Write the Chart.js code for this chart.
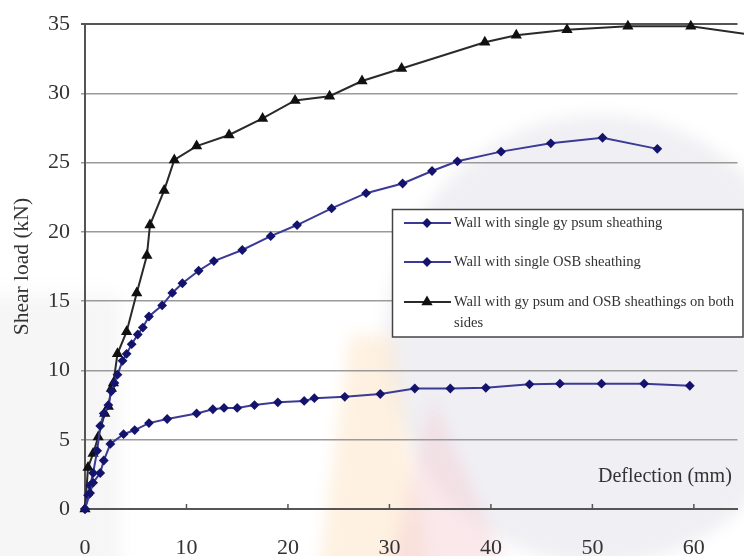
<!DOCTYPE html>
<html>
<head>
<meta charset="utf-8">
<script src="https://cdn.jsdelivr.net/npm/chart.js@4.4.1/dist/chart.umd.min.js"></script>
<style>
  html, body { margin: 0; padding: 0; background: #fff; }
  #wrap { width: 744px; height: 556px; }
</style>
</head>
<body>
<div id="wrap"><canvas id="chart" width="744" height="556"></canvas></div>
<script>
// deflection (mm) / shear load (kN)
const gypsumX = [0, 0.5, 0.8, 1.5, 1.85, 2.5, 3.8, 4.9, 6.3, 8.1, 11.0, 12.6, 13.7, 15.0, 16.7, 19.0, 21.6, 22.6, 25.6, 29.1, 32.5, 36.0, 39.5, 43.8, 46.8, 50.9, 55.1, 59.6];
const gypsumY = [0, 1.15, 1.9, 2.6, 3.5, 4.7, 5.4, 5.7, 6.2, 6.5, 6.9, 7.2, 7.3, 7.3, 7.5, 7.7, 7.8, 8.0, 8.1, 8.3, 8.7, 8.7, 8.75, 9.0, 9.05, 9.05, 9.05, 8.9];

const osbX = [0, 0.3, 0.5, 0.8, 1.2, 1.5, 1.85, 2.3, 2.6, 2.9, 3.2, 3.7, 4.1, 4.6, 5.2, 5.7, 6.3, 7.6, 8.6, 9.6, 11.2, 12.7, 15.5, 18.3, 20.9, 24.3, 27.7, 31.3, 34.2, 36.7, 41.0, 45.9, 51.0, 56.4];
const osbY = [0, 1.0, 1.7, 2.6, 4.2, 6.0, 6.9, 7.5, 8.5, 9.1, 9.7, 10.7, 11.2, 11.9, 12.6, 13.1, 13.9, 14.7, 15.6, 16.3, 17.2, 17.9, 18.7, 19.7, 20.5, 21.7, 22.8, 23.5, 24.4, 25.1, 25.8, 26.4, 26.8, 26.0];

const bothX = [0, 0.3, 0.8, 1.3, 1.95, 2.3, 2.6, 2.8, 3.2, 4.1, 5.1, 6.1, 6.4, 7.8, 8.8, 11.0, 14.2, 17.5, 20.7, 24.1, 27.3, 31.2, 39.4, 42.5, 47.5, 53.5, 59.7, 66.0];
const bothY = [0, 3.0, 4.0, 5.2, 6.9, 7.4, 8.7, 9.1, 11.2, 12.8, 15.6, 18.3, 20.5, 23.0, 25.2, 26.2, 27.0, 28.2, 29.5, 29.8, 30.9, 31.8, 33.7, 34.2, 34.6, 34.85, 34.85, 34.2];

const seriesLabels = [
  "Wall with single gy psum sheathing",
  "Wall with single OSB sheathing",
  "Wall with gy psum and OSB sheathings on both sides"
];
const xTickValues = [0, 10, 20, 30, 40, 50, 60];
const yTickValues = [0, 5, 10, 15, 20, 25, 30, 35];
const xTitle = "Deflection (mm)";
const yTitle = "Shear load (kN)";

const SERIF = "'Liberation Serif', 'DejaVu Serif', serif";

function toPoints(xs, ys) {
  return xs.map((x, i) => ({ x: x, y: ys[i] }));
}

// faint, blurred watermark shapes behind the plot
const backdrop = {
  id: "backdrop",
  beforeDraw(chart) {
    const ctx = chart.ctx;
    ctx.save();
    ctx.fillStyle = "#fff";
    ctx.fillRect(0, 0, chart.width, chart.height);
    ctx.filter = "blur(8px)";
    ctx.fillStyle = "rgba(230,230,237,0.6)";
    ctx.beginPath();
    ctx.ellipse(600, 340, 215, 225, 0, 0, Math.PI * 2);
    ctx.fill();
    ctx.fillStyle = "rgba(240,240,240,0.6)";
    ctx.fillRect(-20, 295, 140, 281);
    ctx.fillStyle = "rgba(253,228,195,0.5)";
    ctx.beginPath();
    ctx.moveTo(350, 335);
    ctx.lineTo(392, 335);
    ctx.lineTo(430, 576);
    ctx.lineTo(318, 576);
    ctx.closePath();
    ctx.fill();
    ctx.fillStyle = "rgba(245,205,210,0.45)";
    ctx.beginPath();
    ctx.moveTo(432, 395);
    ctx.lineTo(510, 576);
    ctx.lineTo(388, 576);
    ctx.closePath();
    ctx.fill();
    ctx.restore();
  }
};

// inner x ticks, the in-plot axis label and the boxed legend
const extras = {
  id: "extras",
  afterDraw(chart) {
    const ctx = chart.ctx;
    const xs = chart.scales.x;
    const area = chart.chartArea;
    ctx.save();

    ctx.strokeStyle = "#555";
    ctx.lineWidth = 1.5;
    xTickValues.forEach((v) => {
      if (v === 0) return;
      const px = xs.getPixelForValue(v);
      ctx.beginPath();
      ctx.moveTo(px, area.bottom);
      ctx.lineTo(px, area.bottom - 5);
      ctx.stroke();
    });

    ctx.fillStyle = "#333";
    ctx.font = "20px " + SERIF;
    ctx.textAlign = "left";
    ctx.textBaseline = "middle";
    ctx.fillText(xTitle, 598, 477);

    // legend
    const box = { left: 392.5, top: 209.5, right: 743, bottom: 337 };
    ctx.fillStyle = "#fff";
    ctx.fillRect(box.left, box.top, box.right - box.left, box.bottom - box.top);
    ctx.strokeStyle = "#444";
    ctx.lineWidth = 1.5;
    ctx.strokeRect(box.left, box.top, box.right - box.left, box.bottom - box.top);

    const rows = [223, 262, 302];
    ctx.font = "14.6px " + SERIF;
    const textLeft = 454;
    const maxW = box.right - textLeft - 1;
    chart.data.datasets.forEach((ds, i) => {
      const y = rows[i];
      ctx.strokeStyle = ds.borderColor;
      ctx.lineWidth = 2;
      ctx.beginPath();
      ctx.moveTo(404, y);
      ctx.lineTo(451, y);
      ctx.stroke();
      ctx.fillStyle = ds.pointBackgroundColor;
      ctx.strokeStyle = ds.pointBorderColor;
      Chart.helpers.drawPoint(ctx, { pointStyle: ds.pointStyle, radius: ds.pointRadius, rotation: 0, borderWidth: 1 }, 427, y);

      // simple word wrap
      const words = ds.label.split(" ");
      const lines = [];
      let cur = "";
      words.forEach((w) => {
        const t = cur ? cur + " " + w : w;
        if (ctx.measureText(t).width > maxW && cur) {
          lines.push(cur);
          cur = w;
        } else {
          cur = t;
        }
      });
      lines.push(cur);
      ctx.fillStyle = "#333";
      lines.forEach((ln, k) => ctx.fillText(ln, textLeft, y + k * 21));
    });

    ctx.restore();
  }
};

new Chart(document.getElementById("chart"), {
  type: "line",
  data: {
    datasets: [
      {
        label: seriesLabels[0],
        data: toPoints(gypsumX, gypsumY),
        borderColor: "#3b3b96",
        borderWidth: 2,
        pointStyle: "rectRot",
        pointRadius: 3.5,
        pointBackgroundColor: "#14146e",
        pointBorderColor: "#14146e",
        clip: false
      },
      {
        label: seriesLabels[1],
        data: toPoints(osbX, osbY),
        borderColor: "#3b3b96",
        borderWidth: 2,
        pointStyle: "rectRot",
        pointRadius: 3.5,
        pointBackgroundColor: "#14146e",
        pointBorderColor: "#14146e",
        clip: false
      },
      {
        label: seriesLabels[2],
        data: toPoints(bothX, bothY),
        borderColor: "#2a2a2a",
        borderWidth: 2,
        pointStyle: "triangle",
        pointRadius: 4.5,
        pointBackgroundColor: "#111",
        pointBorderColor: "#111",
        clip: false
      }
    ]
  },
  options: {
    responsive: false,
    animation: false,
    layout: { padding: { top: 21, right: 0, left: 0, bottom: 0 } },
    plugins: {
      legend: { display: false },
      tooltip: { enabled: false }
    },
    scales: {
      x: {
        type: "linear",
        min: 0,
        max: 64.3,
        afterBuildTicks: (scale) => {
          scale.ticks = xTickValues.map((v) => ({ value: v }));
        },
        afterFit: (scale) => { scale.height = 47; },
        grid: { display: false },
        border: { display: true, color: "#555", width: 2 },
        ticks: {
          color: "#333",
          padding: 18,
          maxRotation: 0,
          font: { family: SERIF, size: 22 }
        }
      },
      y: {
        type: "linear",
        min: 0,
        max: 35,
        afterBuildTicks: (scale) => {
          scale.ticks = yTickValues.map((v) => ({ value: v }));
        },
        afterFit: (scale) => { scale.width = 85; },
        grid: {
          color: (c) => (c.tick && c.tick.value === 35 ? "#555" : "#9a9a9a"),
          lineWidth: (c) => (c.tick && c.tick.value === 35 ? 2 : 1.5),
          tickLength: 4
        },
        border: { display: true, color: "#555", width: 2 },
        title: {
          display: true,
          text: yTitle,
          color: "#333",
          padding: { top: 9, bottom: 0 },
          font: { family: SERIF, size: 21.5 }
        },
        ticks: {
          color: "#333",
          padding: 11,
          font: { family: SERIF, size: 22 }
        }
      }
    }
  },
  plugins: [backdrop, extras]
});
</script>
</body>
</html>
